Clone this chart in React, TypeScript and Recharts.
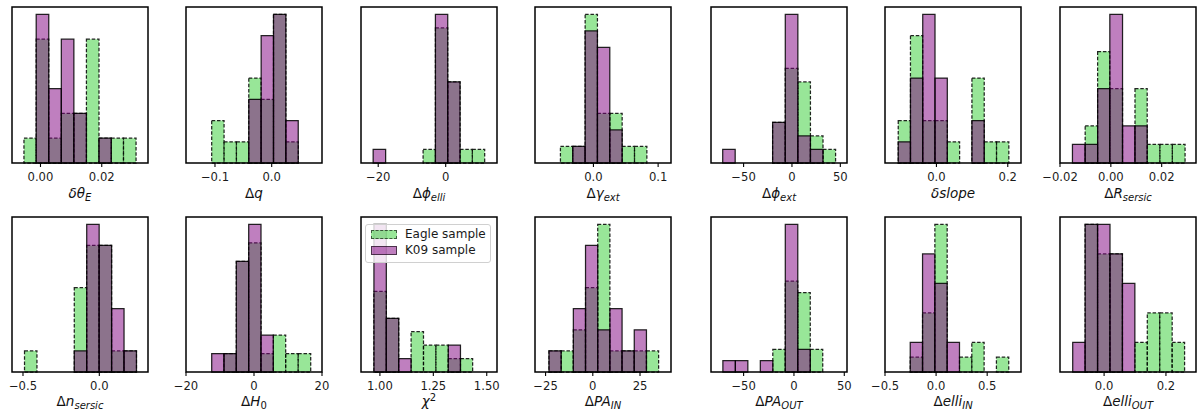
import { ComposedChart, XAxis, YAxis, Line, ReferenceArea } from 'recharts';

const FONT = '"DejaVu Sans", sans-serif';
const EAGLE_FILL = '#32cd32';
const K09_FILL = '#800080';

// δθ_E
const thetaEdges = [-0.0054, -0.0014, 0.0027, 0.0068, 0.0109, 0.015, 0.0191, 0.0231, 0.0271, 0.0312];
const thetaEagle = [1, 5, 1, 2, 2, 5, 1, 1, 1];
const thetaK09 = [0, 6, 3, 5, 2, 0, 1, 0, 0];
const thetaTicks = [0, 0.02];
const thetaTickLabels = ['0.00', '0.02'];

// Δq
const qEdges = [-0.1058, -0.084, -0.0622, -0.0404, -0.0186, 0.0032, 0.025, 0.0468];
const qEagle = [2, 1, 1, 4, 3, 7, 1];
const qK09 = [0, 0, 0, 3, 6, 7, 2];
const qTicks = [-0.1, 0];
const qTickLabels = ['−0.1', '0.0'];

// Δφ_elli
const phiElliEdges = [-21.5, -17.8, -14.1, -10.4, -6.7, -3.05, 0.6, 4.25, 7.9, 11.55];
const phiElliEagle = [0, 0, 0, 0, 1, 10, 6, 1, 1];
const phiElliK09 = [1, 0, 0, 0, 0, 11, 6, 0, 0];
const phiElliTicks = [-20, 0];
const phiElliTickLabels = ['−20', '0'];

// Δγ_ext
const gammaEdges = [-0.051, -0.0319, -0.0128, 0.0062, 0.0253, 0.0444, 0.0635, 0.0826];
const gammaEagle = [1, 1, 9, 3, 3, 1, 1];
const gammaK09 = [0, 1, 8, 7, 2, 0, 0];
const gammaTicks = [0, 0.1];
const gammaTickLabels = ['0.0', '0.1'];

// Δφ_ext
const phiExtEdges = [-71.6, -58.7, -45.8, -32.9, -20.0, -6.9, 6.1, 19.1, 32.1, 45.1];
const phiExtEagle = [0, 0, 0, 0, 3, 7, 6, 2, 1];
const phiExtK09 = [1, 0, 0, 0, 3, 11, 2, 1, 0];
const phiExtTicks = [-50, 0, 50];
const phiExtTickLabels = ['−50', '0', '50'];

// δslope
const slopeEdges = [-0.1071, -0.0728, -0.0384, -0.004, 0.0305, 0.065, 0.0995, 0.134, 0.1685, 0.203];
const slopeEagle = [2, 6, 2, 2, 1, 0, 4, 1, 1];
const slopeK09 = [1, 4, 7, 4, 0, 0, 2, 0, 0];
const slopeTicks = [0, 0.2];
const slopeTickLabels = ['0.0', '0.2'];

// ΔR_sersic
const rSersicEdges = [-0.0151, -0.0101, -0.0052, -0.0004, 0.0046, 0.0095, 0.0143, 0.0193, 0.0242, 0.0292];
const rSersicEagle = [0, 2, 6, 4, 0, 4, 1, 1, 1];
const rSersicK09 = [1, 1, 4, 8, 2, 2, 0, 0, 0];
const rSersicTicks = [-0.02, 0, 0.02];
const rSersicTickLabels = ['−0.02', '0.00', '0.02'];

// Δn_sersic
const nSersicEdges = [-0.49, -0.4085, -0.327, -0.2455, -0.164, -0.0825, -0.001, 0.0805, 0.162, 0.2435];
const nSersicEagle = [1, 0, 0, 0, 4, 6, 6, 1, 1];
const nSersicK09 = [0, 0, 0, 0, 1, 7, 6, 3, 1];
const nSersicTicks = [-0.5, 0];
const nSersicTickLabels = ['−0.5', '0.0'];

// ΔH_0
const h0Edges = [-12.44, -8.82, -5.2, -1.56, 2.06, 5.68, 9.32, 13.0, 16.68];
const h0Eagle = [0, 1, 6, 7, 1, 2, 1, 1];
const h0K09 = [1, 1, 6, 8, 2, 0, 0, 0];
const h0Ticks = [-20, 0, 20];
const h0TickLabels = ['−20', '0', '20'];

// χ²
const chiEdges = [0.972, 1.03, 1.088, 1.146, 1.204, 1.262, 1.32, 1.377, 1.434];
const chiEagle = [6, 4, 0, 3, 2, 2, 1, 1];
const chiK09 = [11, 4, 1, 0, 0, 0, 2, 0];
const chiTicks = [1.0, 1.25, 1.5];
const chiTickLabels = ['1.00', '1.25', '1.50'];

// ΔPA_IN
const paInEdges = [-23.2, -16.75, -10.3, -3.85, 2.6, 9.05, 15.5, 21.95, 28.4, 34.85];
const paInEagle = [1, 1, 2, 4, 7, 1, 1, 1, 1];
const paInK09 = [1, 0, 3, 6, 2, 3, 1, 2, 0];
const paInTicks = [-25, 0, 25];
const paInTickLabels = ['−25', '0', '25'];

// ΔPA_OUT
const paOutEdges = [-70.6, -58.2, -45.8, -33.4, -21.0, -8.6, 3.8, 16.2, 28.6];
const paOutEagle = [0, 0, 0, 0, 2, 8, 7, 2];
const paOutK09 = [1, 1, 0, 1, 0, 13, 2, 0];
const paOutTicks = [-50, 0, 50];
const paOutTickLabels = ['−50', '0', '50'];

// Δelli_IN
const elliInEdges = [-0.253, -0.1325, -0.012, 0.1085, 0.229, 0.3495, 0.47, 0.5905, 0.711];
const elliInEagle = [1, 4, 10, 0, 1, 2, 0, 1];
const elliInK09 = [2, 8, 6, 2, 0, 0, 0, 0];
const elliInTicks = [-0.5, 0, 0.5];
const elliInTickLabels = ['−0.5', '0.0', '0.5'];

// Δelli_OUT
const elliOutEdges = [-0.1015, -0.0613, -0.0211, 0.0191, 0.0593, 0.0995, 0.1397, 0.1799, 0.2201, 0.2603];
const elliOutEagle = [0, 5, 4, 4, 0, 1, 2, 2, 1];
const elliOutK09 = [1, 5, 5, 4, 3, 0, 0, 0, 0];
const elliOutTicks = [0, 0.2];
const elliOutTickLabels = ['0.0', '0.2'];

// axis titles: [text, style]  r = roman, i = italic, sub / subr = subscript, sup = superscript
type Part = [string, 'r' | 'i' | 'sub' | 'subr' | 'sup'];
const titles: Part[][] = [
  [['δθ', 'i'], ['E', 'sub']],
  [['Δ', 'r'], ['q', 'i']],
  [['Δ', 'r'], ['ϕ', 'i'], ['elli', 'sub']],
  [['Δ', 'r'], ['γ', 'i'], ['ext', 'sub']],
  [['Δ', 'r'], ['ϕ', 'i'], ['ext', 'sub']],
  [['δslope', 'i']],
  [['Δ', 'r'], ['R', 'i'], ['sersic', 'sub']],
  [['Δ', 'r'], ['n', 'i'], ['sersic', 'sub']],
  [['Δ', 'r'], ['H', 'i'], ['0', 'subr']],
  [['χ', 'i'], ['2', 'sup']],
  [['Δ', 'r'], ['PA', 'i'], ['IN', 'sub']],
  [['Δ', 'r'], ['PA', 'i'], ['OUT', 'sub']],
  [['Δ', 'r'], ['elli', 'i'], ['IN', 'sub']],
  [['Δ', 'r'], ['elli', 'i'], ['OUT', 'sub']],
];

const panels = [
  { edges: thetaEdges, eagle: thetaEagle, k09: thetaK09, domain: [-0.0093, 0.0351], ticks: thetaTicks, labels: thetaTickLabels },
  { edges: qEdges, eagle: qEagle, k09: qK09, domain: [-0.1511, 0.0887], ticks: qTicks, labels: qTickLabels },
  { edges: phiElliEdges, eagle: phiElliEagle, k09: phiElliK09, domain: [-25.1, 15.2], ticks: phiElliTicks, labels: phiElliTickLabels },
  { edges: gammaEdges, eagle: gammaEagle, k09: gammaK09, domain: [-0.0903, 0.1199], ticks: gammaTicks, labels: gammaTickLabels },
  { edges: phiExtEdges, eagle: phiExtEagle, k09: phiExtK09, domain: [-83.7, 56.9], ticks: phiExtTicks, labels: phiExtTickLabels },
  { edges: slopeEdges, eagle: slopeEagle, k09: slopeK09, domain: [-0.1442, 0.2371], ticks: slopeTicks, labels: slopeTickLabels },
  { edges: rSersicEdges, eagle: rSersicEagle, k09: rSersicK09, domain: [-0.02, 0.0335], ticks: rSersicTicks, labels: rSersicTickLabels },
  { edges: nSersicEdges, eagle: nSersicEagle, k09: nSersicK09, domain: [-0.572, 0.319], ticks: nSersicTicks, labels: nSersicTickLabels },
  { edges: h0Edges, eagle: h0Eagle, k09: h0K09, domain: [-20, 20], ticks: h0Ticks, labels: h0TickLabels },
  { edges: chiEdges, eagle: chiEagle, k09: chiK09, domain: [0.9115, 1.548], ticks: chiTicks, labels: chiTickLabels },
  { edges: paInEdges, eagle: paInEagle, k09: paInK09, domain: [-30.6, 41.4], ticks: paInTicks, labels: paInTickLabels },
  { edges: paOutEdges, eagle: paOutEagle, k09: paOutK09, domain: [-82.4, 52.7], ticks: paOutTicks, labels: paOutTickLabels },
  { edges: elliInEdges, eagle: elliInEagle, k09: elliInK09, domain: [-0.5, 0.831], ticks: elliInTicks, labels: elliInTickLabels },
  { edges: elliOutEdges, eagle: elliOutEagle, k09: elliOutK09, domain: [-0.1426, 0.2972], ticks: elliOutTicks, labels: elliOutTickLabels },
];

const COL_LEFT = [12, 186, 361, 535, 711, 885, 1060];
const ROW_TOP = [7, 217];
const ROW_H = [156, 155];
const TITLE_GAP = [35, 33.5];
const PW = 136;
const M = 24;
const AXIS_H = 46;

// title baseline sits a fixed distance below the bottom spine
function AxisTitle({ parts, baseline }: { parts: Part[]; baseline: number }) {
  return (
    <text x={M + PW / 2} y={baseline} textAnchor="middle" fontFamily={FONT} fontSize={13.5} fill="#111">
      {parts.map(([t, s], i) => {
        if (s === 'sub' || s === 'subr')
          return (
            <tspan key={i} fontSize={10} dy={3} fontStyle={s === 'sub' ? 'italic' : 'normal'}>{t}</tspan>
          );
        if (s === 'sup')
          return <tspan key={i} fontSize={10} dy={-5}>{t}</tspan>;
        return <tspan key={i} fontStyle={s === 'i' ? 'italic' : 'normal'}>{t}</tspan>;
      })}
    </text>
  );
}

function Panel({ idx }: { idx: number }) {
  const p = panels[idx];
  const row = idx < 7 ? 0 : 1;
  const col = idx % 7;
  const ph = ROW_H[row];
  const rows = p.edges.slice(0, -1).map((lo, i) => ({ lo, hi: p.edges[i + 1], eagle: p.eagle[i], k09: p.k09[i] }));
  const ymax = Math.max(...p.eagle, ...p.k09) * 1.05;
  return (
    <div style={{ position: 'absolute', left: COL_LEFT[col] - M, top: ROW_TOP[row] - 2 }}>
      <ComposedChart width={PW + 2 * M} height={ph + 2 + AXIS_H} data={rows} margin={{ top: 2, right: M, bottom: 0, left: M }}>
        <XAxis
          type="number"
          dataKey="lo"
          domain={p.domain}
          allowDataOverflow
          ticks={p.ticks}
          interval={0}
          tickFormatter={(v: number) => p.labels[p.ticks.indexOf(v)] ?? String(v)}
          height={AXIS_H}
          axisLine={false}
          tickSize={4}
          tickMargin={6}
          tickLine={{ stroke: '#000', strokeWidth: 1.1 }}
          tick={{ fontSize: 11.6, fill: '#1a1a1a', fontFamily: FONT }}
          label={() => <AxisTitle parts={titles[idx]} baseline={2 + ph + TITLE_GAP[row]} />}
        />
        <YAxis type="number" domain={[0, ymax]} allowDataOverflow hide />
        <Line dataKey="eagle" stroke="none" dot={false} activeDot={false} isAnimationActive={false} legendType="none" />
        {rows.map((r, i) =>
          r.eagle > 0 ? (
            <ReferenceArea
              key={'e' + i}
              x1={r.lo}
              x2={r.hi}
              y1={0}
              y2={r.eagle}
              fill={EAGLE_FILL}
              fillOpacity={0.5}
              stroke="#000"
              strokeOpacity={0.85}
              strokeWidth={1.25}
              strokeDasharray="3.5 1.8"
            />
          ) : null
        )}
        {rows.map((r, i) =>
          r.k09 > 0 ? (
            <ReferenceArea
              key={'k' + i}
              x1={r.lo}
              x2={r.hi}
              y1={0}
              y2={r.k09}
              fill={K09_FILL}
              fillOpacity={0.5}
              stroke="#000"
              strokeOpacity={0.85}
              strokeWidth={1.25}
            />
          ) : null
        )}
        <ReferenceArea x1={p.domain[0]} x2={p.domain[1]} y1={0} y2={ymax} fill="none" stroke="#000" strokeWidth={1.5} />
      </ComposedChart>
    </div>
  );
}

function LegendBox() {
  const patch = (fill: string, dashed: boolean) => ({
    position: 'absolute' as const,
    left: 5,
    width: 26,
    height: 9,
    boxSizing: 'border-box' as const,
    background: fill,
    border: `1px ${dashed ? 'dashed' : 'solid'} rgba(0,0,0,0.6)`,
  });
  return (
    <div
      style={{
        position: 'absolute',
        left: 365,
        top: 224,
        width: 126,
        height: 39,
        boxSizing: 'border-box',
        background: 'rgba(255,255,255,0.8)',
        border: '1px solid #d0d0d0',
        borderRadius: 3,
        fontFamily: FONT,
        fontSize: 12,
        color: '#1a1a1a',
      }}
    >
      <div style={{ ...patch('rgba(50,205,50,0.5)', true), top: 5 }} />
      <div style={{ position: 'absolute', left: 39, top: 2, lineHeight: '14px' }}>Eagle sample</div>
      <div style={{ ...patch('rgba(128,0,128,0.5)', false), top: 21 }} />
      <div style={{ position: 'absolute', left: 39, top: 18, lineHeight: '14px' }}>K09 sample</div>
    </div>
  );
}

export default function App() {
  return (
    <div style={{ position: 'absolute', left: 0, top: 0, width: 1200, height: 416, background: '#fff', overflow: 'hidden' }}>
      {panels.map((_, i) => (
        <Panel key={i} idx={i} />
      ))}
      <LegendBox />
    </div>
  );
}
